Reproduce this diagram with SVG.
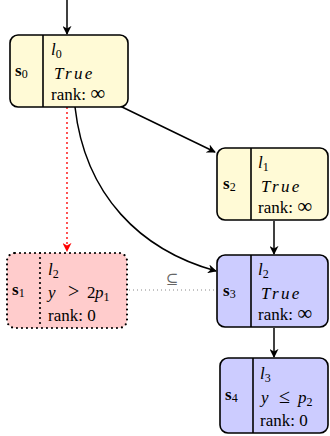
<svg xmlns="http://www.w3.org/2000/svg" width="330" height="436" viewBox="0 0 330 436">
<style>
.box{stroke:#000;stroke-width:1.6}
.y{fill:#fffad6}
.p{fill:#ffcccc}
.b{fill:#ccccff}
.dot{stroke:#000;stroke-width:2.2;stroke-dasharray:0 5;stroke-linecap:round}
.t{font-family:"Liberation Serif","DejaVu Serif",serif;font-size:17px;fill:#000}
.i{font-style:italic}
.tr{font-style:italic;letter-spacing:2.4px}
.sb{font-weight:bold}
.sub{font-size:12px;font-style:normal}
.inf{font-size:21px}
.op{font-size:20px}
.e{fill:none;stroke:#000;stroke-width:1.5}
</style>
<defs>
<marker id="ah" viewBox="0 0 10 10" refX="9" refY="5" markerWidth="9" markerHeight="9" markerUnits="userSpaceOnUse" orient="auto">
<path d="M0,0 L10,5 L0,10 L3,5 Z" fill="#000"/>
</marker>
<marker id="ahr" viewBox="0 0 10 10" refX="9" refY="5" markerWidth="9" markerHeight="9" markerUnits="userSpaceOnUse" orient="auto">
<path d="M0,0 L10,5 L0,10 L3,5 Z" fill="#ff0000"/>
</marker>
</defs>
<g id="edges">
<line class="e" x1="67" y1="0" x2="67" y2="34" marker-end="url(#ah)"/>
<line class="e" x1="120" y1="106" x2="215" y2="152" marker-end="url(#ah)"/>
<path class="e" d="M75,107 C85,195 140,250 216,271" marker-end="url(#ah)"/>
<line x1="67" y1="108" x2="67" y2="251" stroke="#ff0000" stroke-width="1.8" stroke-dasharray="0 5" stroke-linecap="round" marker-end="url(#ahr)"/>
<line class="e" x1="274" y1="221" x2="274" y2="254" marker-end="url(#ah)"/>
<line class="e" x1="274" y1="328" x2="274" y2="357" marker-end="url(#ah)"/>
<line x1="129" y1="290" x2="216" y2="290" stroke="#888" stroke-width="1" stroke-dasharray="1 3"/>
<text x="172" y="284" text-anchor="middle" font-family="DejaVu Serif, serif" font-size="15" fill="#666">⊆</text>
</g>
<g id="s0">
<rect class="box y" x="10" y="35" width="118" height="72" rx="8"/>
<line class="box" x1="43" y1="35" x2="43" y2="107"/>
<text class="t" x="15" y="76"><tspan class="sb">s</tspan><tspan class="sub" dy="2">0</tspan></text>
<text class="t i" x="51" y="55">l<tspan class="sub" dy="3">0</tspan></text>
<text class="t tr" x="54" y="79">True</text>
<text class="t" x="51" y="100">rank: <tspan class="inf">∞</tspan></text>
</g>
<g id="s2">
<rect class="box y" x="217" y="148" width="111" height="72" rx="8"/>
<line class="box" x1="251" y1="148" x2="251" y2="220"/>
<text class="t" x="223" y="189"><tspan class="sb">s</tspan><tspan class="sub" dy="2">2</tspan></text>
<text class="t i" x="258" y="168">l<tspan class="sub" dy="3">1</tspan></text>
<text class="t tr" x="261" y="192">True</text>
<text class="t" x="258" y="213">rank: <tspan class="inf">∞</tspan></text>
</g>
<g id="s1">
<rect class="p" x="7" y="253" width="120" height="75" rx="8"/>
<rect x="7" y="253" width="120" height="75" rx="8" fill="none" class="dot"/>
<line x1="40" y1="253" x2="40" y2="328" class="dot"/>
<text class="t" x="12" y="295"><tspan class="sb">s</tspan><tspan class="sub" dy="2">1</tspan></text>
<text class="t i" x="48" y="275">l<tspan class="sub" dy="3">2</tspan></text>
<text class="t" y="298"><tspan class="i" x="48">y</tspan><tspan class="op" x="68">&gt;</tspan><tspan x="87">2</tspan><tspan class="i" x="95">p</tspan><tspan class="sub" dy="3">1</tspan></text>
<text class="t" x="48" y="321">rank: 0</text>
</g>
<g id="s3">
<rect class="box b" x="217" y="255" width="111" height="72" rx="8"/>
<line class="box" x1="251" y1="255" x2="251" y2="327"/>
<text class="t" x="223" y="296"><tspan class="sb">s</tspan><tspan class="sub" dy="2">3</tspan></text>
<text class="t i" x="258" y="275">l<tspan class="sub" dy="3">2</tspan></text>
<text class="t tr" x="261" y="299">True</text>
<text class="t" x="258" y="320">rank: <tspan class="inf">∞</tspan></text>
</g>
<g id="s4">
<rect class="box b" x="220" y="358" width="108" height="75" rx="8"/>
<line class="box" x1="253" y1="358" x2="253" y2="433"/>
<text class="t" x="225" y="400"><tspan class="sb">s</tspan><tspan class="sub" dy="2">4</tspan></text>
<text class="t i" x="260" y="379">l<tspan class="sub" dy="3">3</tspan></text>
<text class="t" y="403"><tspan class="i" x="261">y</tspan><tspan class="op" x="279">≤</tspan><tspan class="i" x="298">p</tspan><tspan class="sub" dy="3">2</tspan></text>
<text class="t" x="260" y="426">rank: 0</text>
</g>
</svg>
